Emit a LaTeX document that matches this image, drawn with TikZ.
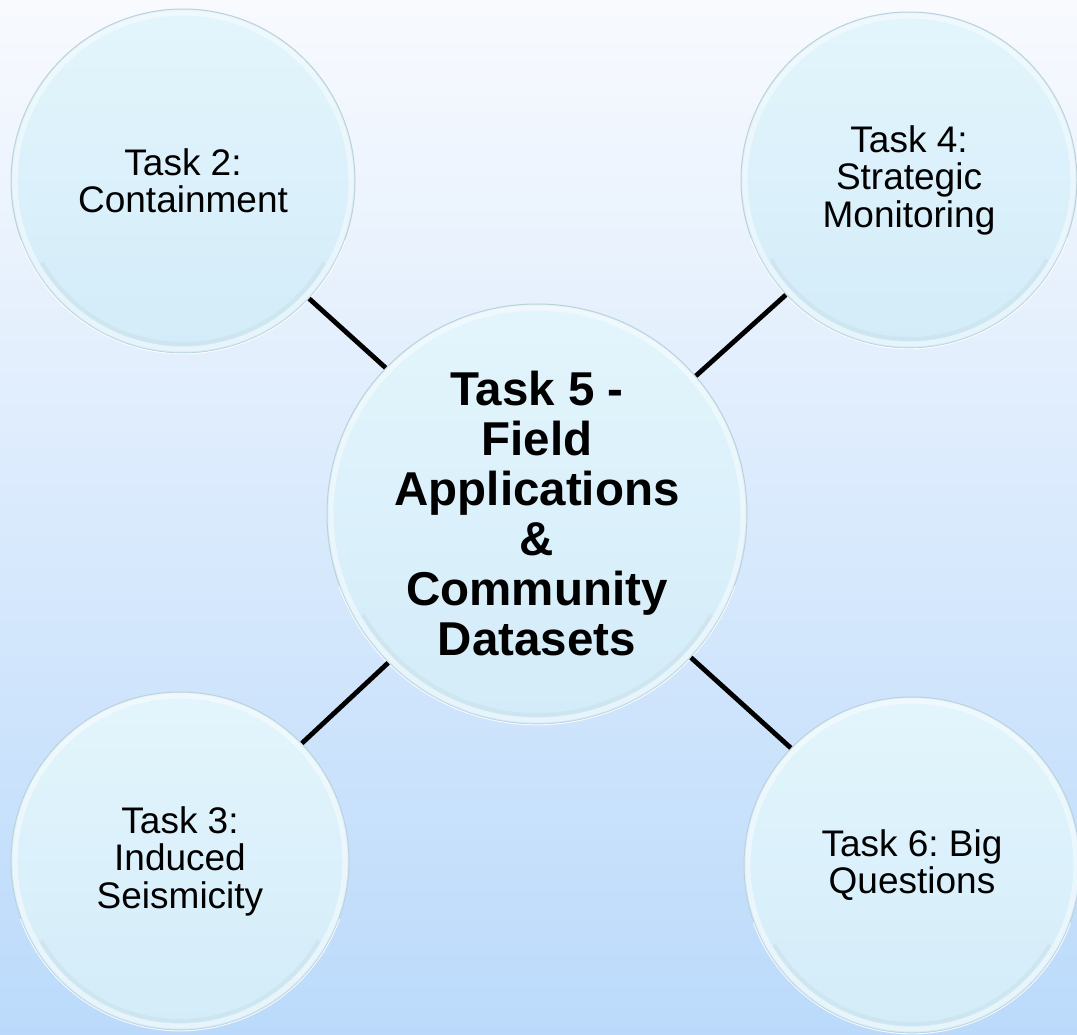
\documentclass[tikz,border=0pt]{standalone}
\usepackage{fontspec}
\setmainfont{Liberation Sans}
\frenchspacing
\definecolor{bgtop}{HTML}{F8FAFE}
\definecolor{bgbot}{HTML}{BBDAFB}
\definecolor{bubtop}{HTML}{E3F5FC}
\definecolor{bubbot}{HTML}{D3ECF9}
\definecolor{rimline}{HTML}{BDD1DA}
\definecolor{rimshade}{HTML}{C9E0E8}
\newcommand\taskfont{\fontsize{37}{37.5}\selectfont}
\newcommand\hubfont{\fontsize{47.5}{50}\selectfont\bfseries}
\tikzset{
  bubble/.style={circle, inner sep=0pt, minimum size=#1, top color=bubtop,
    bottom color=bubbot, draw=rimline, line width=1pt, align=center,
    text=black, font=\taskfont},
  hub/.style={bubble=#1, font=\hubfont},
  link/.style={line width=4.8pt, black},
}
\begin{document}
\begin{tikzpicture}[x=1pt, y=-1pt]
  % page and background gradient
  \useasboundingbox (0,0) rectangle (1077,1035);
  \shade[top color=bgtop, bottom color=bgbot] (0,0) rectangle (1077,1035);

  % task bubbles
  \node[bubble=344pt] (t2) at (183,181) {Task 2:\\Containment};
  \node[bubble=336pt] (t4) at (909,180) {Task 4:\\Strategic\\Monitoring};
  \node[bubble=338pt] (t3) at (180,861) {Task 3:\\Induced\\Seismicity};
  \node[bubble=336pt] (t6) at (912,865) {Task 6: Big\\Questions};
  \node[hub=420pt] (c) at (537,514) {Task 5 -\\Field\\Applications\\\&\\Community\\Datasets};

  % light bevel band inside each rim, darker band on the lower inner edge
  \foreach \n/\r in {t2/172, t4/168, t3/169, t6/168, c/210} {
    \draw[white, line width=5pt, opacity=0.45] (\n.center) circle[radius=\r pt-4pt];
    \draw[rimshade, line width=4pt, opacity=0.5]
      (\n.center) ++(210:\r pt-9pt) arc[start angle=210, end angle=330, radius=\r pt-9pt];
    \draw[white, line width=1pt, opacity=0.8]
      (\n.center) ++(200:\r pt+0.8pt) arc[start angle=200, end angle=340, radius=\r pt+0.8pt];
  }

  % connectors from the hub to each task
  \draw[link] (t2.-43) -- (c.136);
  \draw[link] (t4.223) -- (c.41);
  \draw[link] (t3.44) -- (c.225);
  \draw[link] (t6.136) -- (c.-43);
\end{tikzpicture}
\end{document}
